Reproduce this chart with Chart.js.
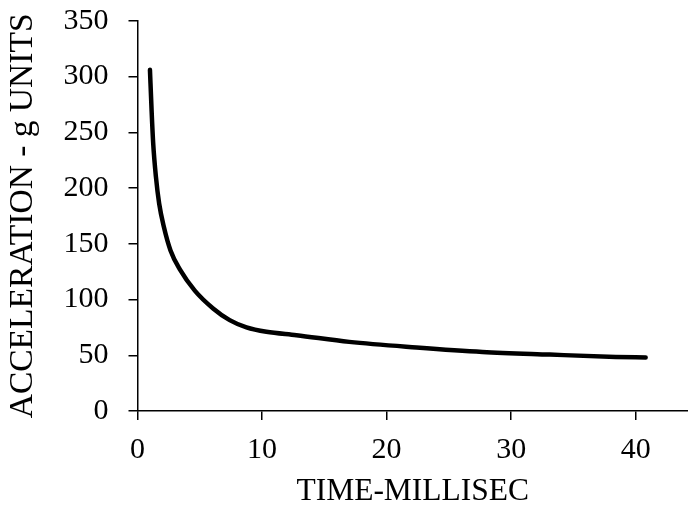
<!DOCTYPE html>
<html>
<head>
<meta charset="utf-8">
<script src="https://cdn.jsdelivr.net/npm/chart.js@4"></script>
<style>
  html, body { margin: 0; padding: 0; background: #fff; }
  #wrap { width: 688px; height: 506px; }
</style>
</head>
<body>
<div id="wrap"><canvas id="myChart" width="688" height="506"></canvas></div>
<script>
// time in ms, acceleration in g units
const timeMs = [1.0, 1.13, 1.26, 1.48, 1.74, 2.12, 2.65, 3.4, 4.6, 6.07, 7.4, 8.75, 10.35, 12.76, 17.0, 22.4, 27.7, 33.1, 38.4, 40.8];
const accelG = [306, 270, 240, 210, 186, 165, 144, 127, 108, 92, 81.5, 75, 71, 68, 62, 57, 53, 50.6, 48.5, 48];
const xTicks = [0, 10, 20, 30, 40];
const yTicks = [0, 50, 100, 150, 200, 250, 300, 350];

const serif = 'Liberation Serif';

const ctx = document.getElementById('myChart');
const myChart = new Chart(ctx, {
    type: 'line',
    data: {
        datasets: [{
            data: timeMs.map((t, i) => ({x: t, y: accelG[i]})),
            borderColor: '#000',
            borderWidth: 4.5,
            borderCapStyle: 'round',
            borderJoinStyle: 'round',
            cubicInterpolationMode: 'monotone',
            pointRadius: 0,
            fill: false
        }]
    },
    options: {
        responsive: false,
        animation: false,
        layout: {
            padding: {top: 4, right: 0, bottom: 0, left: 0}
        },
        scales: {
            x: {
                type: 'linear',
                min: 0,
                max: 44.2,
                afterBuildTicks: (scale) => {
                    scale.ticks = xTicks.map(v => ({value: v}));
                },
                afterFit: (scale) => { scale.height = 95; },
                border: {color: '#000', width: 1.5},
                grid: {drawOnChartArea: false, drawTicks: true, tickLength: 9, color: '#000', lineWidth: 1.5},
                ticks: {
                    color: '#000',
                    padding: 12,
                    maxRotation: 0,
                    font: {family: serif, size: 30}
                },
                title: {
                    display: true,
                    text: 'TIME-MILLISEC',
                    color: '#000',
                    padding: {top: 0, bottom: -1},
                    font: {family: serif, size: 31.5, lineHeight: 1}
                }
            },
            y: {
                min: 0,
                max: 350,
                afterBuildTicks: (scale) => {
                    scale.ticks = yTicks.map(v => ({value: v}));
                },
                afterFit: (scale) => { scale.width = 137.5; },
                border: {color: '#000', width: 1.5},
                grid: {drawOnChartArea: false, drawTicks: true, tickLength: 9, color: '#000', lineWidth: 1.5},
                ticks: {
                    color: '#000',
                    padding: 20,
                    // tiny line height keeps the top label from pushing the plot down
                    font: {family: serif, size: 30, lineHeight: 0.05}
                },
                title: {
                    display: true,
                    text: 'ACCELERATION - g UNITS',
                    color: '#000',
                    padding: {top: 6, bottom: 0},
                    font: {family: serif, size: 33.5, lineHeight: 1}
                }
            }
        },
        plugins: {
            legend: {display: false},
            tooltip: {enabled: false}
        }
    }
});
</script>
</body>
</html>
